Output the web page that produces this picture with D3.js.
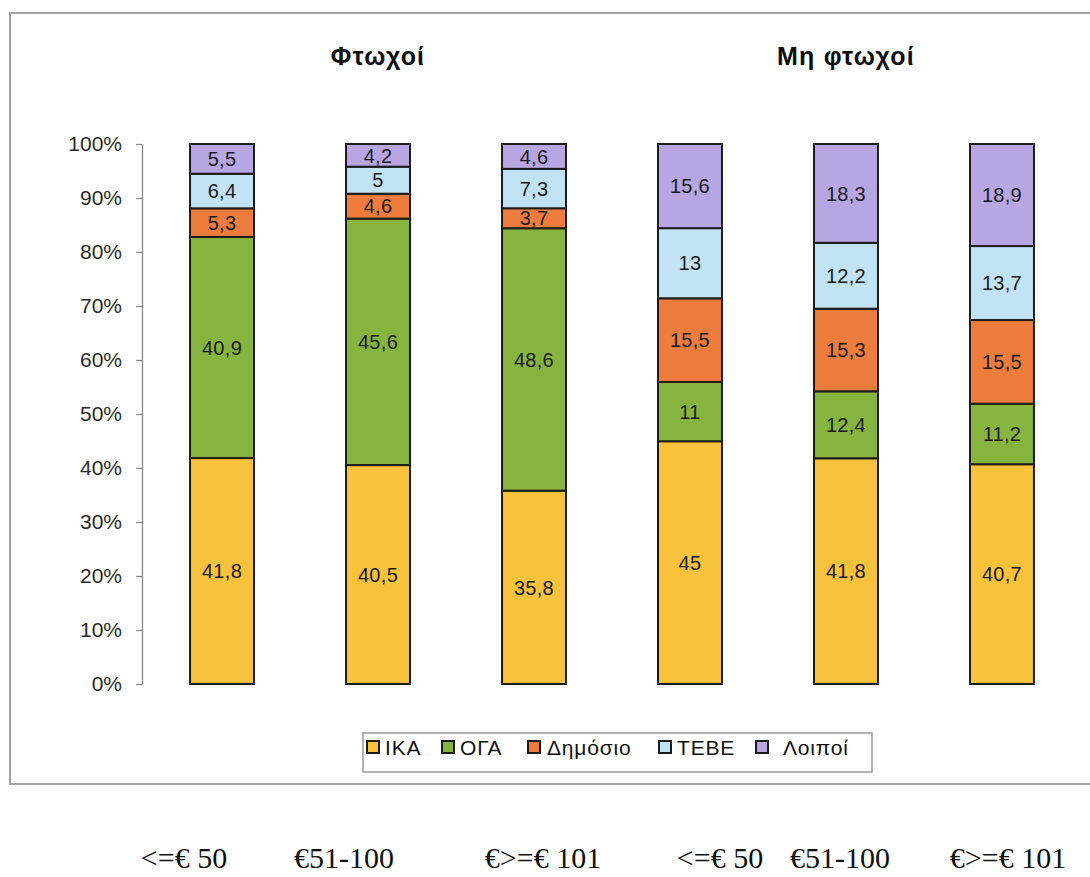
<!DOCTYPE html>
<html>
<head>
<meta charset="utf-8">
<script src="https://cdn.jsdelivr.net/npm/d3@7"></script>
<style>
  html, body { margin: 0; padding: 0; background: #fff; }
  svg { display: block; }
</style>
</head>
<body>
<svg id="chart" width="1090" height="877"></svg>
<script>
// Income brackets (x categories), two groups of three
const categories = ["<=€ 50", "€51-100", "€>=€ 101", "<=€ 50", "€51-100", "€>=€ 101"];
const groupTitles = ["Φτωχοί", "Μη φτωχοί"];

// Insurance funds, stacked bottom to top
const seriesNames = ["ΙΚΑ", "ΟΓΑ", "Δημόσιο", "ΤΕΒΕ", "Λοιποί"];
const seriesColors = ["#F8C23C", "#86B43E", "#EE7D3D", "#C2E3F6", "#B8A6E2"];

// Share (%) of each fund per bracket
const ika      = [41.8, 40.5, 35.8, 45,   41.8, 40.7];
const oga      = [40.9, 45.6, 48.6, 11,   12.4, 11.2];
const dimosio  = [5.3,  4.6,  3.7,  15.5, 15.3, 15.5];
const tebe     = [6.4,  5,    7.3,  13,   12.2, 13.7];
const loipoi   = [5.5,  4.2,  4.6,  15.6, 18.3, 18.9];

const yTicks = [0, 0.1, 0.2, 0.3, 0.4, 0.5, 0.6, 0.7, 0.8, 0.9, 1];

const seriesValues = [ika, oga, dimosio, tebe, loipoi];
const rows = categories.map((c, i) => {
  const r = { idx: i };
  seriesNames.forEach((s, k) => { r[s] = seriesValues[k][i]; });
  return r;
});

const svg = d3.select("#chart");
svg.append("rect").attr("width", 1090).attr("height", 877).attr("fill", "#fff");

// outer frame of the chart area
svg.append("path")
  .attr("d", "M1095,13 H10 V784 H1095")
  .attr("fill", "none").attr("stroke", "#a3a3a3").attr("stroke-width", 2);

const x = d3.scaleBand()
  .domain(d3.range(categories.length))
  .range([142, 1082])
  .paddingInner(0.59)
  .paddingOuter(0.308);

const y = d3.scaleLinear().domain([0, 1]).range([684, 144]);

const stack = d3.stack().keys(seriesNames).offset(d3.stackOffsetExpand);
const stacked = stack(rows);

// y axis
const yAxis = svg.append("g")
  .attr("transform", "translate(142,0)")
  .call(d3.axisLeft(y).tickValues(yTicks).tickFormat(d3.format(".0%"))
    .tickSize(6).tickSizeOuter(0).tickPadding(14));
yAxis.select(".domain").attr("stroke", "#8a8a8a").attr("stroke-width", 1.3);
yAxis.selectAll(".tick line").attr("stroke", "#8a8a8a").attr("stroke-width", 1.3);
yAxis.selectAll(".tick text")
  .attr("font-family", "Liberation Sans, Arial, sans-serif")
  .attr("font-size", 21).attr("fill", "#2a2a2a");

// stacked bars
const layer = svg.append("g").selectAll("g")
  .data(stacked).join("g")
  .attr("fill", (d, i) => seriesColors[i]);

layer.selectAll("rect")
  .data(d => d).join("rect")
  .attr("x", d => x(d.data.idx))
  .attr("width", x.bandwidth())
  .attr("y", d => y(d[1]))
  .attr("height", d => y(d[0]) - y(d[1]))
  .attr("stroke", "#1b1b1b").attr("stroke-width", 2);

// value labels
const fmt = v => String(v).replace(".", ",");
stacked.forEach((s, k) => {
  svg.append("g").selectAll("text")
    .data(s).join("text")
    .attr("x", d => x(d.data.idx) + x.bandwidth() / 2)
    .attr("y", d => (y(d[0]) + y(d[1])) / 2)
    .attr("dy", "0.36em")
    .attr("text-anchor", "middle")
    .attr("font-family", "Liberation Sans, Arial, sans-serif")
    .attr("font-size", 20).attr("letter-spacing", 0.3).attr("fill", "#1a1a1a")
    .text(d => fmt(seriesValues[k][d.data.idx]));
});

// group titles above the middle bar of each group
groupTitles.forEach((t, g) => {
  svg.append("text")
    .attr("x", x(g * 3 + 1) + x.bandwidth() / 2)
    .attr("y", 65)
    .attr("text-anchor", "middle")
    .attr("font-family", "Liberation Sans, Arial, sans-serif")
    .attr("font-weight", "bold").attr("font-size", 25).attr("letter-spacing", 1.2)
    .attr("fill", "#0d0d0d")
    .text(t);
});

// legend
const legend = svg.append("g");
legend.append("rect")
  .attr("x", 363).attr("y", 733).attr("width", 509).attr("height", 39)
  .attr("fill", "#fff").attr("stroke", "#9a9a9a").attr("stroke-width", 1.5);
const legendX = [367, 442, 528, 659, 756];
const legendTextGap = [18, 18, 19, 18, 27];
seriesNames.forEach((s, i) => {
  legend.append("rect")
    .attr("x", legendX[i]).attr("y", 741).attr("width", 12).attr("height", 12)
    .attr("fill", seriesColors[i]).attr("stroke", "#1b1b1b").attr("stroke-width", 2);
  legend.append("text")
    .attr("x", legendX[i] + legendTextGap[i]).attr("y", 755)
    .attr("font-family", "Liberation Sans, Arial, sans-serif")
    .attr("font-size", 21).attr("letter-spacing", 0.8).attr("fill", "#111")
    .text(s);
});

// bracket labels along the bottom
const labelNudge = [-38, -34, 9, 30, -6, 6];
svg.append("g").selectAll("text")
  .data(categories).join("text")
  .attr("x", (d, i) => x(i) + x.bandwidth() / 2 + labelNudge[i])
  .attr("y", 868)
  .attr("text-anchor", "middle")
  .attr("font-family", "Liberation Serif, Times New Roman, serif")
  .attr("font-size", 30).attr("fill", "#111")
  .text(d => d);
</script>
</body>
</html>
